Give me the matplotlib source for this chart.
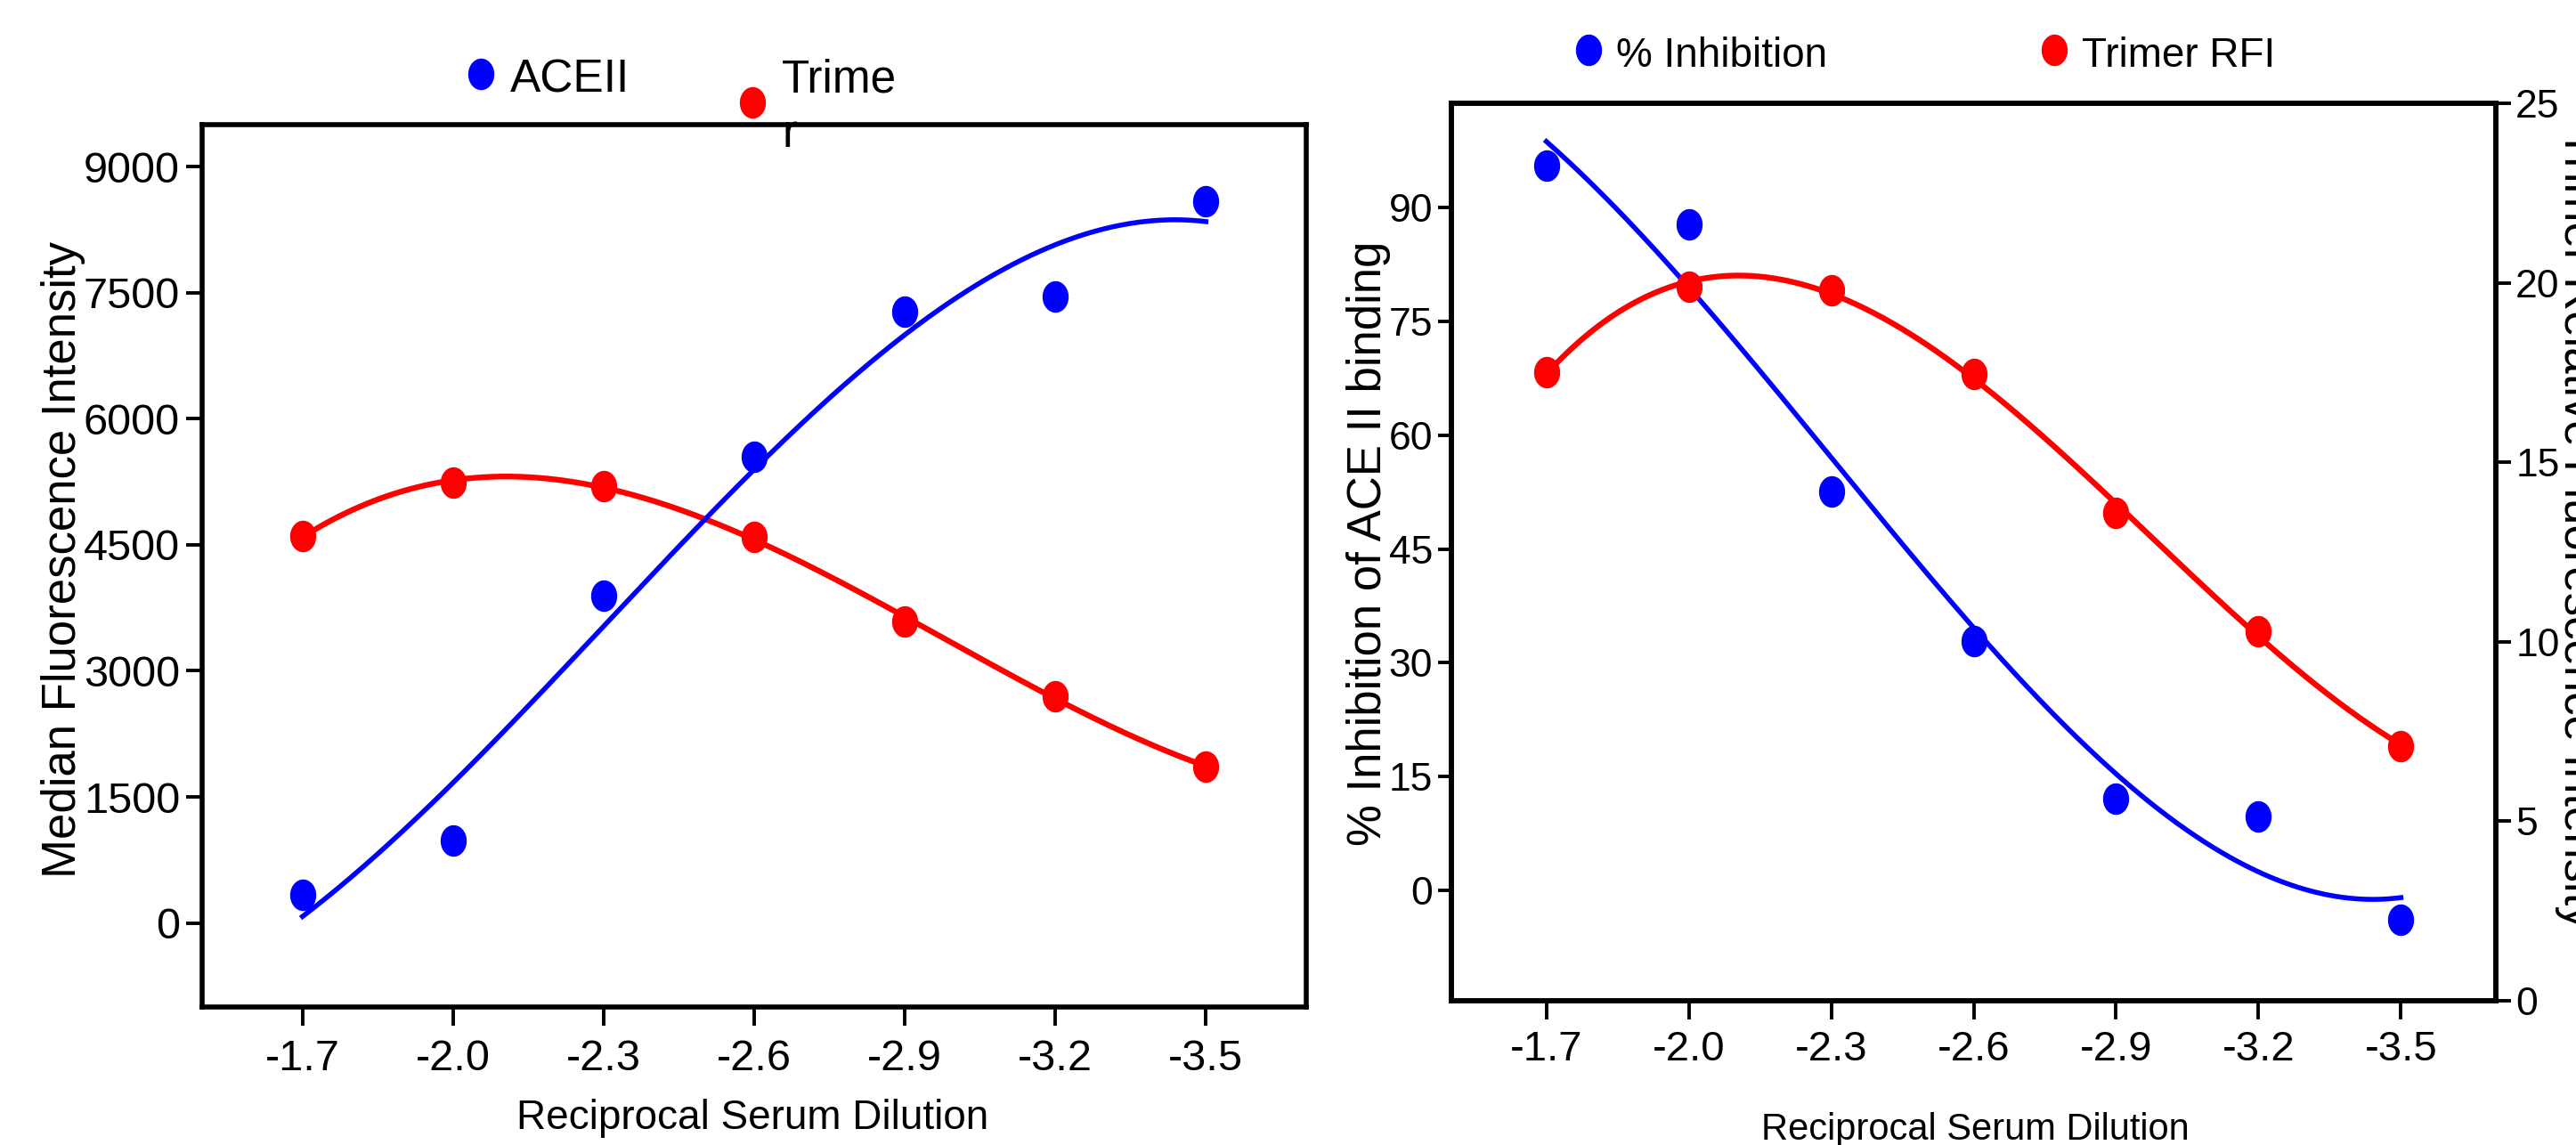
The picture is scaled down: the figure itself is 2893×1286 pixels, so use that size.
import numpy as np
import matplotlib
matplotlib.use("Agg")
import matplotlib.pyplot as plt
from matplotlib.path import Path
from matplotlib.lines import Line2D

# ---------------- data ----------------
dilution = [-1.7, -2.0, -2.3, -2.6, -2.9, -3.2, -3.5]
dilution_labels = ["-1.7", "-2.0", "-2.3", "-2.6", "-2.9", "-3.2", "-3.5"]

# left panel: median fluorescence intensity
ace2_mfi = [340, 980, 3900, 5550, 7270, 7460, 8590]
trimer_mfi = [4600, 5240, 5200, 4590, 3590, 2700, 1860]
left_yticks = [0, 1500, 3000, 4500, 6000, 7500, 9000]

# right panel
inhibition_pct = [95.6, 87.8, 52.6, 32.8, 12.1, 9.7, -3.9]
trimer_rfi = [17.5, 19.9, 19.8, 17.45, 13.6, 10.3, 7.1]
right_yticks = [0, 15, 30, 45, 60, 75, 90]
rfi_ticks = [0, 5, 10, 15, 20, 25]

BLUE = "#0000FF"
RED = "#FF0000"
FONT = ["Liberation Sans", "DejaVu Sans"]

plt.rcParams["font.family"] = FONT

W, H, DPI = 2893, 1286, 100
fig = plt.figure(figsize=(W / DPI, H / DPI), dpi=DPI)


def fx(px):
    return px / W


def fy(py):
    return 1 - py / H


# third-order polynomial fit curves through the measured points
xs = np.linspace(dilution[0], dilution[-1], 300)


def cubic_curve(x, y):
    return np.polyval(np.polyfit(x, y, 3), xs)


# elliptical marker (taller than wide)
t = np.linspace(0, 2 * np.pi, 80)
ell = Path(np.column_stack([0.41 * np.cos(t), 0.5 * np.sin(t)]), closed=True)
MS = 24.5

SPINE_LW = 4.0
TICK_W = 2.8
BLUE_LW = 4.0
RED_LW = 4.6


def style_axes(ax):
    for s in ax.spines.values():
        s.set_linewidth(SPINE_LW)
        s.set_color("black")


# ---------------- left panel ----------------
axL = fig.add_axes([fx(227), fy(1131), fx(1467) - fx(227), fy(140) - fy(1131)])
style_axes(axL)
axL.set_xlim(-1.5, -3.7)
axL.set_ylim(-1000, 9500)
axL.set_xticks(dilution)
axL.set_xticklabels(dilution_labels)
axL.set_yticks(left_yticks)
axL.set_yticklabels([str(v) for v in left_yticks])
axL.tick_params(axis="x", direction="out", length=15, width=TICK_W, pad=11, labelsize=35)
axL.tick_params(axis="y", direction="out", length=13, width=TICK_W, pad=5, labelsize=35)

axL.plot(xs, cubic_curve(dilution, trimer_mfi), color=RED, lw=RED_LW, zorder=2)
axL.plot(dilution, trimer_mfi, ls="none", marker=ell, ms=MS, color=RED, zorder=3)
axL.plot(xs, cubic_curve(dilution, ace2_mfi), color=BLUE, lw=BLUE_LW, zorder=4)
axL.plot(dilution, ace2_mfi, ls="none", marker=ell, ms=MS, color=BLUE, zorder=5)

fig.text(fx(46), fy(628), "Median Fluorescence Intensity", rotation=90,
         ha="left", va="center", fontsize=38)
fig.text(fx(845), fy(1268), "Reciprocal Serum Dilution", ha="center",
         va="baseline", fontsize=33)

# left legend
fig.add_artist(Line2D([fx(540)], [fy(83)], transform=fig.transFigure, ls="none",
                      marker=ell, ms=MS, color=BLUE))
fig.text(fx(573), fy(103), "ACEII", ha="left", va="baseline", fontsize=37)
fig.add_artist(Line2D([fx(845)], [fy(115)], transform=fig.transFigure, ls="none",
                      marker=ell, ms=MS, color=RED))
fig.text(fx(878), fy(103), "Trime", ha="left", va="baseline", fontsize=37)
fig.text(fx(878), fy(165), "r", ha="left", va="baseline", fontsize=37, zorder=10)

# ---------------- right panel ----------------
axR = fig.add_axes([fx(1630), fy(1124), fx(2803) - fx(1630), fy(116) - fy(1124)])
style_axes(axR)
axR.set_xlim(-1.5, -3.7)
axR.set_ylim(-14.6, 103.8)
axR.set_xticks(dilution)
axR.set_xticklabels(dilution_labels)
axR.set_yticks(right_yticks)
axR.set_yticklabels([str(v) for v in right_yticks])
axR.tick_params(axis="x", direction="out", length=15, width=TICK_W, pad=9, labelsize=34)
axR.tick_params(axis="y", direction="out", length=11, width=TICK_W, pad=4, labelsize=32)

axR2 = axR.twinx()
style_axes(axR2)
axR2.set_ylim(0, 25)
axR2.set_yticks(rfi_ticks)
axR2.set_yticklabels([str(v) for v in rfi_ticks])
axR2.tick_params(axis="y", direction="out", length=12, width=TICK_W, pad=4, labelsize=32)

axR.plot(xs, cubic_curve(dilution, inhibition_pct), color=BLUE, lw=BLUE_LW, zorder=2)
axR.plot(dilution, inhibition_pct, ls="none", marker=ell, ms=MS, color=BLUE, zorder=3)
axR2.plot(xs, cubic_curve(dilution, trimer_rfi), color=RED, lw=RED_LW, zorder=2)
axR2.plot(dilution, trimer_rfi, ls="none", marker=ell, ms=MS, color=RED, zorder=3)

fig.text(fx(1512), fy(610), "% Inhibition of ACE II binding", rotation=90,
         ha="left", va="center", fontsize=38)
fig.text(fx(2869), fy(594), "Trimer Relative Fluorescence Intensity", rotation=270,
         ha="left", va="center", fontsize=38)
fig.text(fx(2218), fy(1280), "Reciprocal Serum Dilution", ha="center",
         va="baseline", fontsize=30)

# right legend
fig.add_artist(Line2D([fx(1784)], [fy(56)], transform=fig.transFigure, ls="none",
                      marker=ell, ms=MS, color=BLUE))
fig.text(fx(1815), fy(75), "% Inhibition", ha="left", va="baseline", fontsize=33)
fig.add_artist(Line2D([fx(2307)], [fy(56)], transform=fig.transFigure, ls="none",
                      marker=ell, ms=MS, color=RED))
fig.text(fx(2338), fy(75), "Trimer RFI", ha="left", va="baseline", fontsize=33)

fig.savefig("out.png", dpi=DPI)
